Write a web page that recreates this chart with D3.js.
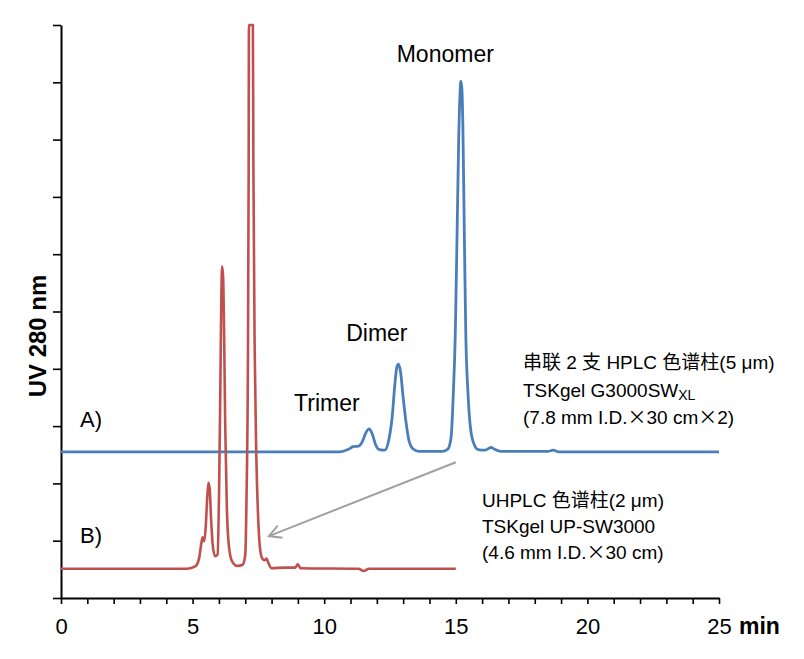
<!DOCTYPE html>
<meta charset="utf-8">
<script src="https://d3js.org/d3.v7.min.js"></script>
<style>
body { margin: 0; background: #fff; }
text { font-family: Arial, "Liberation Sans", "Noto Sans CJK SC", sans-serif; fill: #000; }
.fw { font-family: "Noto Sans CJK SC"; font-feature-settings: "fwid"; }
</style>
<svg id="chart" width="804" height="659"></svg>
<script>

// A) two HPLC columns in series -- time (min) and UV signal (axis units 0-100)
var timeA = [0, 10.6, 10.9, 11.1, 11.3, 11.45, 11.58, 11.71, 11.82, 11.95, 12.1, 12.3, 12.45, 12.58, 12.68, 12.76, 12.82, 12.9, 13.0, 13.1, 13.22, 13.38, 13.6, 14.5, 14.7, 14.82, 14.9, 14.98, 15.05, 15.11, 15.16, 15.19, 15.23, 15.27, 15.32, 15.38, 15.46, 15.55, 15.68, 15.85, 16.1, 16.25, 16.34, 16.45, 16.7, 18.5, 18.7, 18.9, 25];
var signalA = [25.5, 25.5, 25.9, 26.4, 26.5, 27.3, 28.8, 29.5, 28.7, 26.8, 25.9, 25.8, 27.5, 31.5, 37, 40.3, 40.8, 39.5, 35, 31, 27.5, 26.0, 25.6, 25.6, 26.0, 28, 35, 46, 64, 80, 88, 90.2, 89, 82, 65, 46, 36, 30, 27, 25.9, 25.8, 26.1, 26.3, 26.0, 25.6, 25.6, 25.8, 25.5, 25.5];

// B) UHPLC column
var timeB = [0, 4.8, 5.1, 5.25, 5.33, 5.38, 5.44, 5.5, 5.55, 5.6, 5.65, 5.7, 5.76, 5.85, 5.95, 6.01, 6.05, 6.09, 6.12, 6.16, 6.2, 6.24, 6.3, 6.38, 6.5, 6.7, 6.9, 7.0, 7.05, 7.1, 7.13, 7.14, 7.29, 7.31, 7.36, 7.42, 7.5, 7.58, 7.66, 7.75, 7.81, 7.88, 8.0, 8.5, 8.9, 9.0, 9.1, 11.3, 11.5, 11.7, 15];
var signalB = [5.1, 5.1, 5.5, 7.0, 9.5, 10.6, 9.9, 12.5, 17, 20.1, 19, 14, 9.5, 7.3, 7.6, 20, 35, 52, 57.9, 56, 45, 30, 16, 9, 6.4, 5.6, 5.8, 7.5, 18, 40, 75, 100, 100, 75, 43, 25, 13, 8, 6.8, 6.6, 6.9, 6.1, 5.2, 5.3, 5.3, 5.9, 5.2, 5.1, 4.7, 5.1, 5.1];

var xLabels = [0, 5, 10, 15, 20, 25];

// peak names: [text, time of label centre, signal of label baseline]
var peakNames = [["Trimer", 10.1, 32.6], ["Dimer", 12.0, 44.9], ["Monomer", 14.6, 93.5]];

// column descriptions, split round the "×" signs
var columnA = [["串联 2 支 HPLC 色谱柱(5 μm)"], ["TSKgel G3000SW"], ["(7.8 mm I.D.", "30 cm", "2)"]];
var columnB = [["UHPLC 色谱柱(2 μm)"], ["TSKgel UP-SW3000"], ["(4.6 mm I.D.", "30 cm)"]];

var svg = d3.select("#chart");

var x = d3.scaleLinear().domain([0, 25]).range([61, 719]);
var y = d3.scaleLinear().domain([0, 100]).range([598, 25]);

// axes
var xAxis = svg.append("g")
    .attr("transform", "translate(0,598)")
    .call(d3.axisBottom(x)
        .tickValues(d3.range(0, 26))
        .tickSize(6)
        .tickSizeOuter(0)
        .tickPadding(14)
        .tickFormat(d => xLabels.indexOf(d) >= 0 ? d : ""));
xAxis.select(".domain").attr("stroke", "#000").attr("stroke-width", 2);
xAxis.selectAll(".tick line").attr("stroke", "#000").attr("stroke-width", 1.6);
xAxis.selectAll(".tick text").style("font-size", "22px").attr("fill", "#000")
    .style("font-family", "Arial, 'Liberation Sans', sans-serif");

var yAxis = svg.append("g")
    .attr("transform", "translate(61,0)")
    .call(d3.axisLeft(y)
        .tickValues(d3.range(0, 101, 10))
        .tickSize(8)
        .tickSizeOuter(0)
        .tickFormat(""));
yAxis.select(".domain").attr("stroke", "#000").attr("stroke-width", 2);
yAxis.selectAll(".tick line").attr("stroke", "#000").attr("stroke-width", 1.6);

svg.append("text")
    .attr("x", 739).attr("y", 634)
    .style("font-size", "23px").style("font-weight", "bold")
    .text("min");

svg.append("text")
    .attr("transform", "translate(46,336) rotate(-90)")
    .attr("text-anchor", "middle")
    .style("font-size", "24px").style("font-weight", "bold")
    .text("UV 280 nm");

// traces
var line = d3.line()
    .x(d => x(d[0]))
    .y(d => y(d[1]))
    .curve(d3.curveMonotoneX);

svg.append("path")
    .datum(d3.zip(timeA, signalA))
    .attr("d", line)
    .attr("fill", "none")
    .attr("stroke", "#4a7ebb")
    .attr("stroke-width", 2.8)
    .attr("stroke-linejoin", "round");

svg.append("path")
    .datum(d3.zip(timeB, signalB))
    .attr("d", line)
    .attr("fill", "none")
    .attr("stroke", "#c0504d")
    .attr("stroke-width", 2.6)
    .attr("stroke-linejoin", "round");

// trace labels
svg.append("text").attr("x", 80).attr("y", 427).style("font-size", "22px").text("A)");
svg.append("text").attr("x", 80).attr("y", 543).style("font-size", "22px").text("B)");

svg.selectAll(".peak")
    .data(peakNames)
    .enter().append("text")
    .attr("class", "peak")
    .attr("x", d => x(d[1]))
    .attr("y", d => y(d[2]))
    .attr("text-anchor", "middle")
    .style("font-size", "23px")
    .text(d => d[0]);

// column descriptions
function block(lines, left, top, step) {
  var g = svg.append("g").attr("transform", "translate(" + left + "," + top + ")");
  var t = g.selectAll("text")
      .data(lines)
      .enter().append("text")
      .attr("x", 0)
      .attr("y", (d, i) => i * step)
      .style("font-size", "19px");
  t.each(function(parts) {
    var el = d3.select(this);
    parts.forEach(function(p, j) {
      if (j > 0) el.append("tspan").attr("class", "fw").text("×");
      el.append("tspan").text(p);
    });
  });
  return g;
}

var blockA = block(columnA, 523, 369, 27.5);
blockA.select("text:nth-child(2)").append("tspan")
    .attr("dy", 3).style("font-size", "14px").text("XL");

block(columnB, 482, 507, 26);

// arrow from trace A to trace B
svg.append("defs").append("marker")
    .attr("id", "head")
    .attr("markerUnits", "userSpaceOnUse")
    .attr("markerWidth", 16).attr("markerHeight", 16)
    .attr("refX", 13).attr("refY", 8)
    .attr("orient", "auto")
    .append("path")
    .attr("d", "M1,1.5 L13,8 L1,14.5")
    .attr("fill", "none")
    .attr("stroke", "#a0a0a0")
    .attr("stroke-width", 2);

svg.append("line")
    .attr("x1", x(15.0)).attr("y1", y(23.7))
    .attr("x2", x(7.9)).attr("y2", y(10.8))
    .attr("stroke", "#a0a0a0")
    .attr("stroke-width", 2)
    .attr("marker-end", "url(#head)");

</script>
